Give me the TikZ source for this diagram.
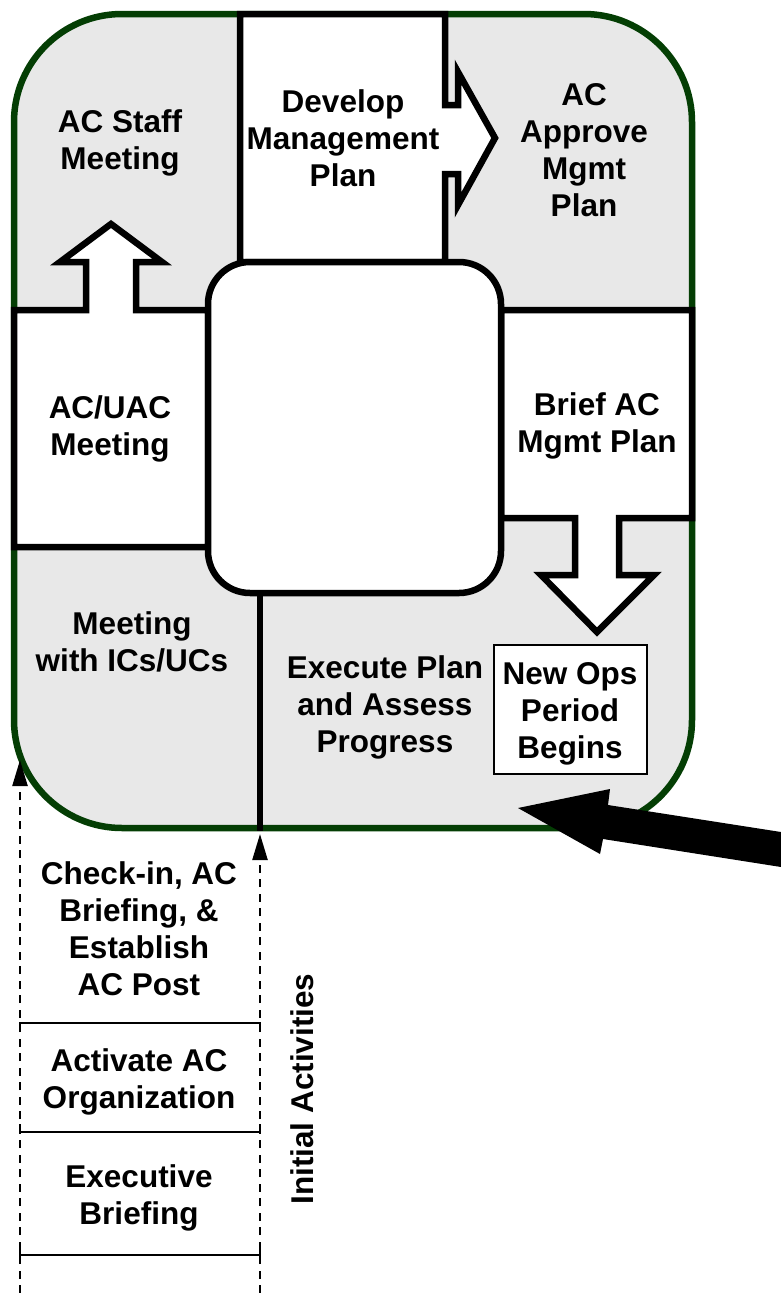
\documentclass[tikz,border=0pt]{standalone}
\usepackage{fontspec}
\setmainfont{Liberation Sans}
\usetikzlibrary{arrows.meta}
\definecolor{frameGreen}{RGB}{4,62,4}
\definecolor{panelGray}{RGB}{232,232,232}
\begin{document}
\begin{tikzpicture}[x=1pt,y=-1pt,
  lbl/.style={font=\fontsize{31.5}{37}\selectfont\bfseries, align=center, inner sep=0pt},
  blk/.style={draw=black, fill=white, line width=6.5pt, line join=miter, miter limit=10},
  sepline/.style={line width=2.2pt},
  dashline/.style={dash pattern=on 8pt off 6.5pt, line width=2.3pt, -{Triangle[length=26pt,width=15pt]}},
  bigarrow/.style={fill=black}
]
\useasboundingbox (0,0) rectangle (781,1293);

% outer frame
\node[draw=frameGreen, fill=panelGray, line width=6.5pt, rounded corners=108pt,
      minimum width=678pt, minimum height=814pt, inner sep=0pt] (frame) at (353,421) {};

% Develop Management Plan box with right arrow
\draw[blk] (240,14) -- (445,14) -- (445,105) -- (458,105) -- (458,72) -- (495,138)
  -- (458,205) -- (458,174) -- (445,174) -- (445,262) -- (240,262) -- cycle;

% AC/UAC Meeting box with up arrow
\draw[blk] (14,310) -- (86,310) -- (86,262) -- (60,262) -- (111,224) -- (162,262)
  -- (136,262) -- (136,310) -- (208,310) -- (208,547) -- (14,547) -- cycle;

% Brief AC Mgmt Plan box with down arrow
\draw[blk] (501,310) -- (692,310) -- (692,518) -- (619,518) -- (619,575) -- (654,575)
  -- (597,632) -- (541,575) -- (575,575) -- (575,518) -- (501,518) -- cycle;

% central hub
\node[draw=black, fill=white, line width=6.5pt, rounded corners=42pt,
      minimum width=293pt, minimum height=331pt, inner sep=0pt] (hub) at (354.5,427.5) {};

% vertical divider
\coordinate (vx) at (260,0);
\draw[line width=6.5pt] (hub.south -| vx) -- (frame.south -| vx);

% New Ops box
\node[draw=black, fill=white, line width=2.5pt, minimum width=153pt, minimum height=129pt,
      inner sep=0pt] (newops) at (570.5,709.5) {};

% labels
\node[lbl] (staff) at (120,143) {AC Staff\\Meeting};
\node[lbl] (develop) at (343,138) {Develop\\Management\\Plan};
\node[lbl] (approve) at (584,150) {AC\\Approve\\Mgmt\\Plan};
\node[lbl] (uac) at (110,429) {AC/UAC\\Meeting};
\node[lbl] (brief) at (597,426) {Brief AC\\Mgmt Plan};
\node[lbl] (ics) at (132,642) {Meeting\\with ICs/UCs};
\node[lbl] (execute) at (385,707) {Execute Plan\\and Assess\\Progress};
\node[lbl] (opslbl) at (570,714) {New Ops\\Period\\Begins};
\node[lbl] (checkin) at (139,928.5) {Check-in, AC\\Briefing, \&\\Establish\\AC Post};
\node[lbl] (activate) at (139,1082) {Activate AC\\Organization};
\node[lbl] (exec) at (139,1198) {Executive\\Briefing};
\node[lbl, rotate=90] (initial) at (302,1089) {Initial Activities};

% separators
\draw[sepline] (20,1031) -- (20,1023) -- (260,1023) -- (260,1031);
\draw[sepline] (20,1124) -- (20,1132) -- (260,1132) -- (260,1124);
\draw[sepline] (20,1250) -- (20,1260);
\draw[sepline] (20,1255) -- (260,1255);
\draw[sepline] (260,1250) -- (260,1260);

% dashed arrows
\coordinate (lbot) at (20,1293);
\coordinate (ltop) at (20,760);
\coordinate (rbot) at (260,1293);
\coordinate (rtop) at (260,834);
\draw[dashline] (lbot) -- (ltop);
\draw[dashline] (rbot) -- (rtop);

% big black arrow
\coordinate (btip) at (518,808);
\fill[bigarrow] (781,832) -- (608,805) -- (610,789) -- (btip) -- (600,854) -- (603,839)
  -- (781,867) -- cycle;
\end{tikzpicture}
\end{document}
